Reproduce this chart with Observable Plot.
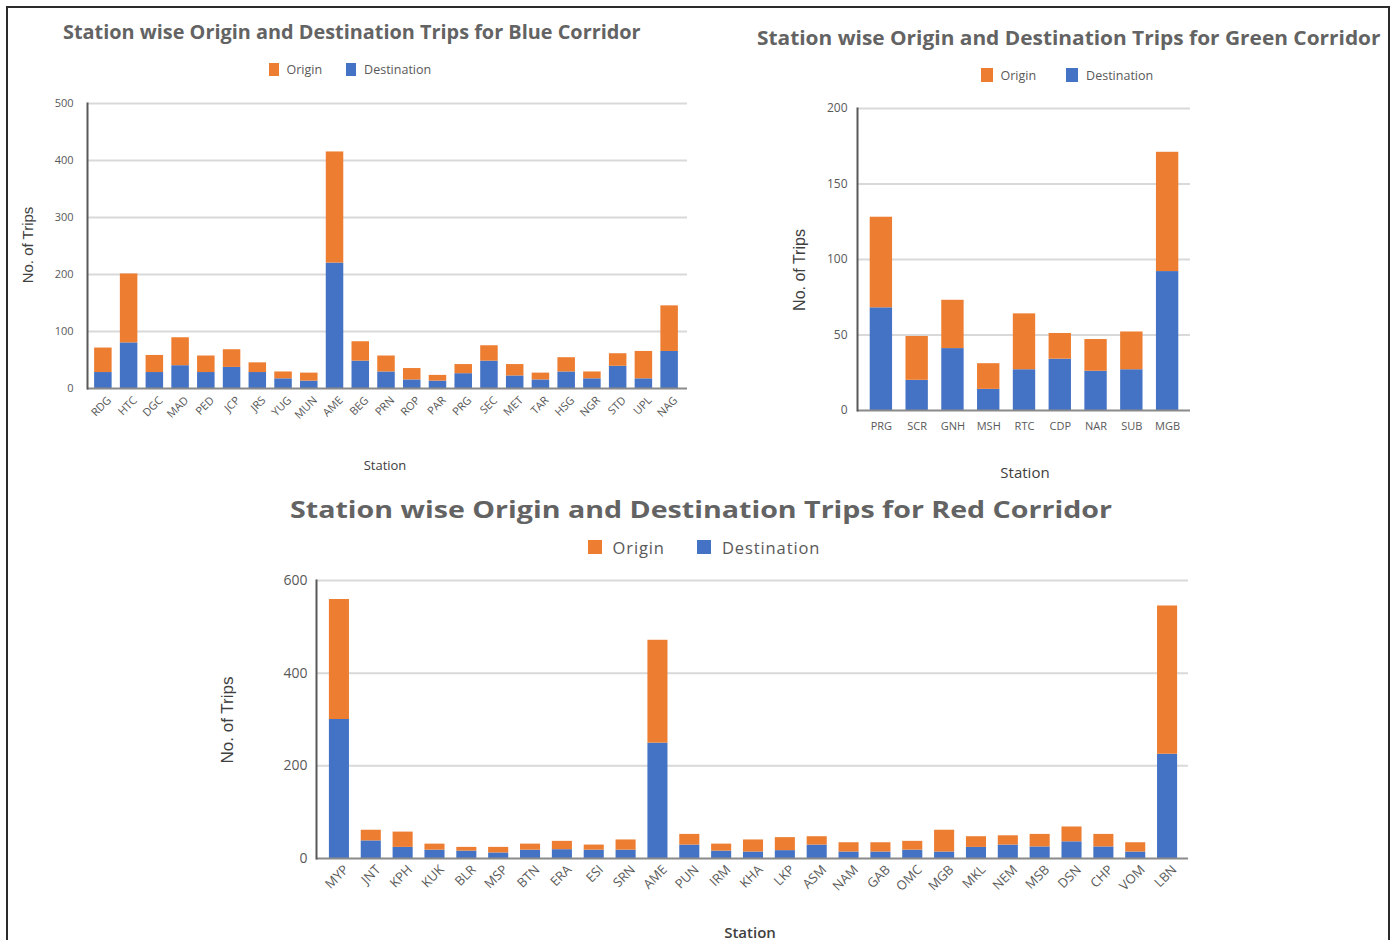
<!DOCTYPE html>
<html>
<head>
<meta charset="utf-8">
<script src="https://cdn.jsdelivr.net/npm/d3@7"></script>
<script src="https://cdn.jsdelivr.net/npm/@observablehq/plot@0.6"></script>
<style>
  html, body { margin: 0; padding: 0; background: #fff; }
  body { width: 1397px; height: 940px; overflow: hidden; position: relative; font-family: "Open Sans", sans-serif; }
  .border { position: absolute; left: 6px; top: 6px; width: 1384px; height: 980px; border: 2px solid #2b2b2b; box-sizing: border-box; }
  .abs { position: absolute; white-space: nowrap; }
  .title { font-weight: 700; color: #636363; transform-origin: 0 0; }
  .legend { display: flex; align-items: center; color: #595959; }
  .legend .sw { display: inline-block; }
  .ytitle { font-family: "Liberation Sans", Arial, sans-serif; color: #404040; transform: translate(-50%, -50%) rotate(-90deg); }
  .xtitle { color: #404040; transform: translate(-50%, -50%); }
  .panel { position: absolute; }
</style>
</head>
<body>
<div class="border"></div>
<script>
// Series colours
const ORANGE = "#ED7D31";
const BLUE = "#4472C4";
const seriesNames = ["Origin", "Destination"];

// Blue corridor
const blueStations = ["RDG","HTC","DGC","MAD","PED","JCP","JRS","YUG","MUN","AME","BEG","PRN","ROP","PAR","PRG","SEC","MET","TAR","HSG","NGR","STD","UPL","NAG"];
const blueDestination = [28,80,28,40,28,37,28,17,13,220,48,29,15,13,26,48,22,15,29,17,39,17,65];
const blueOrigin      = [43,121,30,49,29,31,17,12,14,195,34,28,20,10,16,27,20,12,25,12,22,48,80];
const blueTicks = [0,100,200,300,400,500];

// Green corridor
const greenStations = ["PRG","SCR","GNH","MSH","RTC","CDP","NAR","SUB","MGB"];
const greenDestination = [68,20,41,14,27,34,26,27,92];
const greenOrigin      = [60,29,32,17,37,17,21,25,79];
const greenTicks = [0,50,100,150,200];

// Red corridor
const redStations = ["MYP","JNT","KPH","KUK","BLR","MSP","BTN","ERA","ESI","SRN","AME","PUN","IRM","KHA","LKP","ASM","NAM","GAB","OMC","MGB","MKL","NEM","MSB","DSN","CHP","VOM","LBN"];
const redDestination = [300,38,24,18,16,12,18,19,18,18,249,29,16,14,17,29,14,14,18,14,24,29,25,36,25,14,225];
const redOrigin      = [259,23,33,13,8,12,13,18,11,22,222,23,15,26,28,18,20,20,19,47,23,20,27,32,27,20,320];
const redTicks = [0,200,400,600];

function rowsFor(stations, origin, destination) {
  const rows = [];
  stations.forEach((s, i) => {
    rows.push({station: s, series: "Destination", trips: destination[i]});
    rows.push({station: s, series: "Origin", trips: origin[i]});
  });
  return rows;
}

function addText(cls, text, x, y, css) {
  const el = document.createElement("div");
  el.className = "abs " + cls;
  el.textContent = text;
  el.style.left = x + "px";
  el.style.top = y + "px";
  Object.assign(el.style, css || {});
  document.body.appendChild(el);
  return el;
}

// Chart title centred on cx, squeezed horizontally to the given span
function addTitle(text, cx, cy, size, span) {
  const el = addText("title", text, 0, 0, {fontSize: size + "px"});
  const w = el.offsetWidth, h = el.offsetHeight;
  const k = span / w;
  el.style.left = (cx - span / 2) + "px";
  el.style.top = (cy - h / 2) + "px";
  el.style.transform = `scaleX(${k})`;
}

function addLegend(cx, cy, size, sw, gap, spacing) {
  const el = document.createElement("div");
  el.className = "abs legend";
  el.style.fontSize = size + "px";
  el.style.letterSpacing = (spacing || 0) + "px";
  seriesNames.forEach((name, i) => {
    const s = document.createElement("span");
    s.className = "sw";
    s.style.width = sw[0] + "px";
    s.style.height = sw[1] + "px";
    s.style.background = i === 0 ? ORANGE : BLUE;
    s.style.marginRight = Math.round(size * 0.65) + "px";
    if (i > 0) s.style.marginLeft = gap + "px";
    const t = document.createElement("span");
    t.textContent = name;
    el.appendChild(s);
    el.appendChild(t);
  });
  document.body.appendChild(el);
  el.style.left = (cx - el.offsetWidth / 2) + "px";
  el.style.top = (cy - el.offsetHeight / 2) + "px";
}

function corridorChart(o) {
  const rows = rowsFor(o.stations, o.origin, o.destination);
  const chart = Plot.plot({
    width: o.width,
    height: o.height,
    marginLeft: o.margin[3],
    marginTop: o.margin[0],
    marginRight: o.margin[1],
    marginBottom: o.margin[2],
    style: {fontFamily: "'Open Sans', sans-serif", fontSize: o.tickSize + "px", color: "#595959", background: "transparent", overflow: "visible"},
    x: {domain: o.stations, round: false, paddingInner: o.padding, paddingOuter: o.padding / 2, insetLeft: o.inset[0], insetRight: o.inset[1], label: null},
    y: {domain: [0, o.ticks[o.ticks.length - 1]], label: null},
    color: {domain: seriesNames, range: [ORANGE, BLUE]},
    marks: [
      Plot.gridY(o.ticks.filter(d => d > 0), {stroke: "#d9d9d9", strokeOpacity: 1, strokeWidth: 2}),
      Plot.barY(rows, {x: "station", y: "trips", fill: "series", order: ["Destination", "Origin"]}),
      Plot.ruleY([0], {stroke: "#8a8a8a", strokeWidth: 2}),
      Plot.frame({anchor: "left", stroke: "#595959", strokeWidth: 2}),
      Plot.axisY({ticks: o.ticks, tickSize: 0, tickPadding: o.yPad, label: null, fontSize: o.yTickSize}),
      Plot.axisX({tickSize: 0, tickPadding: o.xPad, tickRotate: o.rotate, dx: o.xShift, label: null, fontSize: o.tickSize})
    ]
  });
  const wrap = document.createElement("div");
  wrap.className = "panel";
  wrap.style.left = o.left + "px";
  wrap.style.top = o.top + "px";
  wrap.appendChild(chart);
  document.body.appendChild(wrap);
}

// Blue corridor panel
addTitle("Station wise Origin and Destination Trips for Blue  Corridor", 352, 31, 20, 578);
addLegend(350, 69, 12.5, [10, 13], 24);
corridorChart({
  stations: blueStations, origin: blueOrigin, destination: blueDestination, ticks: blueTicks,
  left: 0, top: 90, width: 700, height: 400, margin: [13, 13, 102, 87], inset: [3, 5],
  padding: 0.32, tickSize: 11, yTickSize: 11, yPad: 14, xPad: 10, xShift: 6, rotate: -45
});
addText("ytitle", "No. of Trips", 27, 245, {fontSize: "15px"});
addText("xtitle", "Station", 385, 465, {fontSize: "13px"});

// Green corridor panel
addTitle("Station wise Origin and Destination Trips for Green Corridor", 1068, 37, 20, 623);
addLegend(1067, 75, 12.5, [12, 14], 30);
corridorChart({
  stations: greenStations, origin: greenOrigin, destination: greenDestination, ticks: greenTicks,
  left: 760, top: 95, width: 450, height: 400, margin: [13, 20, 85, 97], inset: [6, 5],
  padding: 0.375, tickSize: 11, yTickSize: 12, yPad: 10, xPad: 12, xShift: 0, rotate: 0
});
addText("ytitle", "No. of Trips", 800, 270, {fontSize: "16px"});
addText("xtitle", "Station", 1025, 472, {fontSize: "15px"});

// Red corridor panel
addTitle("Station wise Origin and Destination Trips for Red Corridor", 701, 509, 23, 822);
addLegend(704, 547, 16.5, [14, 14], 32, 0.9);
corridorChart({
  stations: redStations, origin: redOrigin, destination: redDestination, ticks: redTicks,
  left: 200, top: 560, width: 1000, height: 380, margin: [20, 12, 82, 116], inset: [7, 5],
  padding: 0.37, tickSize: 13, yTickSize: 14, yPad: 9, xPad: 9, xShift: 7, rotate: -45
});
addText("ytitle", "No. of Trips", 228, 720, {fontSize: "17px"});
addText("xtitle", "Station", 750, 932, {fontSize: "15px", fontWeight: "600"});
</script>
</body>
</html>
